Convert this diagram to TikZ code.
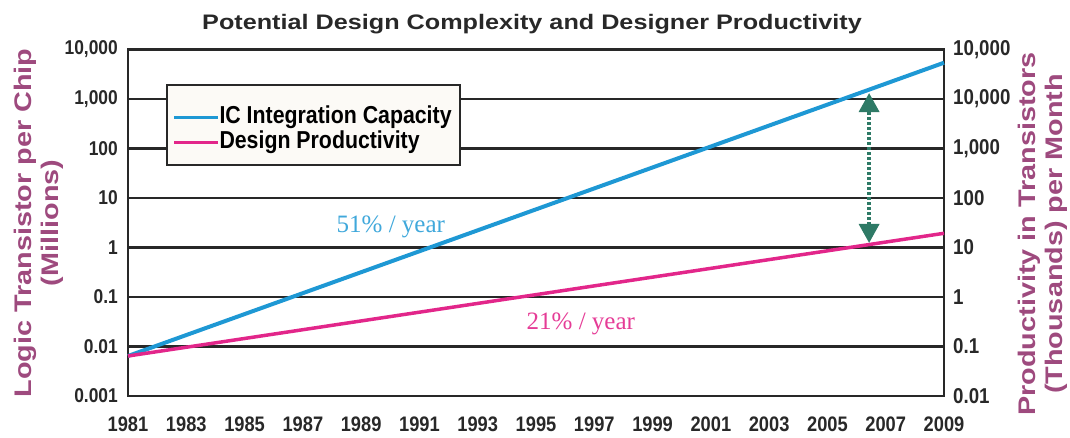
\documentclass[tikz,border=0pt]{standalone}
\usepackage{fontspec}
\setmainfont{Liberation Sans}
\newfontfamily\narrowsans{Liberation Sans}[FakeStretch=0.87]
\newfontfamily\widesans{Liberation Sans}[FakeStretch=1.2]
\newfontfamily\rateserif{Liberation Serif}
\usetikzlibrary{arrows.meta}
\definecolor{icblue}{RGB}{30,152,212}
\definecolor{prodpink}{RGB}{226,38,138}
\definecolor{axismauve}{RGB}{158,74,126}
\definecolor{gapgreen}{RGB}{46,122,102}
\definecolor{gridgray}{RGB}{40,40,40}
\definecolor{legendfill}{RGB}{252,250,246}

\begin{document}
\begin{tikzpicture}[x=29.143pt,y=49.5pt,
  grid/.style={gridgray,line width=2.4pt},
  ticklbl/.style={inner sep=0pt,text=gridgray,font=\narrowsans\bfseries\fontsize{20}{24}\selectfont},
  axistitle/.style={rotate=90,align=center,inner sep=0pt,text=axismauve,font=\widesans\bfseries\fontsize{24}{27}\selectfont},
  legendlbl/.style={inner sep=0pt,text=black,font=\narrowsans\bfseries\fontsize{24.5}{28}\selectfont},
  ratelbl/.style={inner sep=0pt,font=\rateserif\fontsize{25}{30}\selectfont}]
\useasboundingbox (-128pt,-41pt) rectangle (942pt,396pt);

% grid and frame
\foreach \d in {1,...,6}
  \draw[grid] (0,\d) -- (28,\d);
\draw[grid] (0,0) rectangle (28,7);

% scales
\foreach \lbl [count=\d from 0] in {0.001,0.01,0.1,1,10,100,{1,000},{10,000}}
  \node[ticklbl,anchor=east] (left\d) at ([xshift=-10pt]0,\d) {\lbl};
\foreach \lbl [count=\d from 0] in {0.01,0.1,1,10,100,{1,000},{10,000},{10,000}}
  \node[ticklbl,anchor=west,font=\narrowsans\bfseries\fontsize{21.5}{24}\selectfont] (right\d) at ([xshift=9pt]28,\d) {\lbl};
\foreach \yr [evaluate=\yr as \x using \yr-1981] in {1981,1983,...,2009}
  \node[ticklbl,font=\narrowsans\bfseries\fontsize{21}{24}\selectfont] (year\yr) at ([yshift=-28pt]\x,0) {\yr};

% titles
\node[anchor=base,inner sep=0pt,text=gridgray,font=\widesans\bfseries\fontsize{21}{25}\selectfont] (title) at (404pt,366.7pt)
  {Potential Design Complexity and Designer Productivity};
\node[axistitle] (ytitle) at (-89pt,173pt) {Logic Transistor per Chip\\(Millions)};
\node[axistitle] (y2title) at (915pt,162pt) {Productivity in Transistors\\(Thousands) per Month};

% trends
\draw[icblue,line width=4pt] (0,0.808) -- (28,6.733);
\draw[prodpink,line width=3.5pt] (0,0.808) -- (28,3.287);
\node[ratelbl,anchor=base,text=icblue!85!white] (icrate) at (9.02,3.293) {51\% / year};
\node[ratelbl,anchor=base,text=prodpink!90!white] (prodrate) at (15.54,1.347) {21\% / year};

% legend
\node[draw=gridgray,line width=2pt,fill=legendfill,minimum width=293pt,minimum height=80pt,
  anchor=north west,inner sep=0pt] (legend) at (38pt,312pt) {};
\draw[icblue,line width=3pt] ([shift={(8pt,-33pt)}]legend.north west) -- ++(44pt,0)
  node[legendlbl,anchor=west] (iclbl) {IC Integration Capacity};
\draw[prodpink,line width=3pt] ([shift={(8pt,-58pt)}]legend.north west) -- ++(44pt,0)
  node[legendlbl,anchor=west] (prodlbl) {Design Productivity};

% gap
\coordinate (gaptop) at (25.43,6.121);
\coordinate (gapbot) at (25.43,3.091);
\draw[gapgreen,line width=3.5pt,dash pattern=on 3pt off 2pt,
  {Triangle[width=20pt,length=19pt]}-{Triangle[width=20pt,length=19pt]}] (gapbot) -- (gaptop);
\end{tikzpicture}
\end{document}
